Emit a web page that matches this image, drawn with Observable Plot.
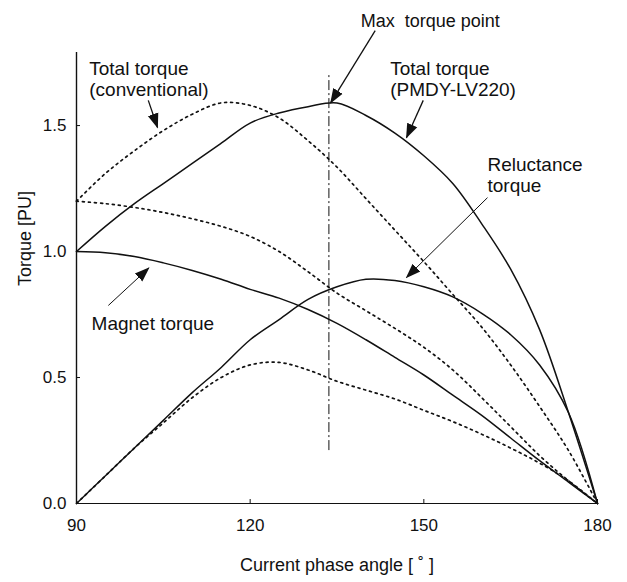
<!DOCTYPE html>
<html><head><meta charset="utf-8">
<script src="https://cdn.jsdelivr.net/npm/d3@7"></script>
<script src="https://cdn.jsdelivr.net/npm/@observablehq/plot@0.6"></script>
<style>body{margin:0;background:#fff}</style>
</head><body><div id="chart"></div>
<script>
// Current phase angle (deg)
const angles = [90,95,100,105,110,115,120,125,130,135,140,145,150,155,160,165,170,175,180];
// PMDY-LV220 (solid)
const totalPmdy   = [1.00,1.10,1.19,1.27,1.35,1.43,1.51,1.55,1.575,1.59,1.54,1.47,1.38,1.27,1.11,0.93,0.69,0.36,0.00];
const magnetPmdy  = [1.00,0.995,0.98,0.955,0.925,0.89,0.85,0.815,0.77,0.715,0.65,0.58,0.51,0.43,0.35,0.26,0.17,0.085,0.00];
const reluctPmdy  = [0.00,0.11,0.22,0.33,0.44,0.54,0.65,0.73,0.81,0.86,0.89,0.885,0.86,0.82,0.755,0.67,0.55,0.36,0.00];
// Conventional (dotted)
const totalConv   = [1.20,1.31,1.40,1.48,1.545,1.59,1.58,1.53,1.44,1.335,1.21,1.085,0.96,0.83,0.70,0.55,0.385,0.21,0.00];
const magnetConv  = [1.20,1.19,1.175,1.155,1.13,1.10,1.06,1.00,0.92,0.835,0.765,0.695,0.62,0.53,0.42,0.305,0.19,0.09,0.00];
const reluctConv  = [0.00,0.11,0.22,0.32,0.42,0.50,0.55,0.56,0.53,0.485,0.45,0.415,0.37,0.325,0.275,0.22,0.16,0.09,0.00];

const xTicks = [90,120,150,180];
const yTicks = [0,0.5,1.0,1.5];

const maxAngle = [133.6];
const maxRange = [0.21, 1.71];

const labelText = ["Total torque\n(conventional)", "Max  torque point", "Total torque\n(PMDY-LV220)", "Reluctance\ntorque", "Magnet torque"];
const labelX    = [92.2, 139.1, 144.2, 161.0, 92.6];
const labelY    = [1.685, 1.915, 1.685, 1.305, 0.715];
const labelSize = [19, 18, 19, 19, 19];

const arrowFromX = [102.4, 141.6, 149.9, 161.0, 95.5];
const arrowFromY = [1.60, 1.877, 1.60, 1.214, 0.786];
const arrowToX   = [104.0, 133.9, 147.0, 147.0, 102.5];
const arrowToY   = [1.492, 1.59, 1.452, 0.897, 0.935];
const arrowWidth = [1.3, 1.3, 1.3, 1.0, 1.0];

const solid = [totalPmdy, magnetPmdy, reluctPmdy];
const dotted = [totalConv, magnetConv, reluctConv];
const toRows = arr => angles.map((a, i) => ({a, v: arr[i]}));
const labels = labelText.map((t, i) => ({t, x: labelX[i], y: labelY[i], s: labelSize[i]}));
const arrows = arrowFromX.map((x1, i) => ({x1, y1: arrowFromY[i], x2: arrowToX[i], y2: arrowToY[i], w: arrowWidth[i]}));

const ink = "#111";
const marks = [
  Plot.ruleX([90], {y1: 0, y2: 1.79, stroke: ink, strokeWidth: 1.4}),
  Plot.ruleY([0], {x1: 90, x2: 180, stroke: ink, strokeWidth: 1}),
  Plot.axisY({ticks: yTicks, tickSize: 0, tickPadding: 10, tickFormat: d3.format(".1f"), label: null, fontSize: 17}),
  Plot.axisY({ticks: yTicks, tickSize: 4, dx: 4, tickFormat: () => "", label: null}),
  Plot.axisX({ticks: xTicks, tickSize: 0, tickPadding: 15, label: null, fontSize: 17}),
  Plot.axisX({ticks: xTicks, tickSize: 4, dy: -4, tickFormat: () => "", label: null}),
  Plot.text(["Current phase angle [ ˚ ]"], {frameAnchor: "bottom", dy: 67, fontSize: 18, fill: ink}),
  Plot.text(["Torque [PU]"], {frameAnchor: "left", rotate: -90, dx: -51, dy: 8, fontSize: 18, fill: ink}),
  Plot.ruleX(maxAngle, {y1: maxRange[0], y2: maxRange[1], stroke: ink, strokeWidth: 1, strokeDasharray: "10,3,2,3"}),
  ...solid.map(s => Plot.line(toRows(s), {x: "a", y: "v", stroke: ink, strokeWidth: 1.5, curve: "catmull-rom"})),
  ...dotted.map(s => Plot.line(toRows(s), {x: "a", y: "v", stroke: ink, strokeWidth: 1.7, strokeDasharray: "2,4", curve: "catmull-rom"})),
  Plot.link(arrows, {x1: "x1", y1: "y1", x2: "x2", y2: "y2", stroke: ink, strokeWidth: "w", markerEnd: "arrow"}),
  ...labelSize.map((s, i) => Plot.text([labels[i]], {x: "x", y: "y", text: "t", textAnchor: "start", lineAnchor: "middle", lineHeight: 1.1, fontSize: s, fill: ink}))
];

const chart = Plot.plot({
  width: 627, height: 582,
  marginLeft: 76, marginRight: 30, marginTop: 52, marginBottom: 79,
  x: {domain: [90, 180]},
  y: {domain: [0, 1.79]},
  style: {fontFamily: "'Liberation Sans', Arial, sans-serif", background: "#fff", color: ink, overflow: "visible"},
  marks
});

// own filled triangular arrowhead, applied to the annotation links
const svg = d3.select(chart);
svg.append("defs").append("marker")
  .attr("id", "headfill").attr("markerUnits", "userSpaceOnUse")
  .attr("viewBox", "0 -7 15 14").attr("refX", 14).attr("refY", 0)
  .attr("markerWidth", 15).attr("markerHeight", 14).attr("orient", "auto")
  .append("path").attr("d", "M0,-5.5L15,0L0,5.5Z").attr("fill", ink).attr("stroke", "none");
svg.selectAll("[marker-end]").attr("marker-end", "url(#headfill)");

document.getElementById("chart").append(chart);
</script>
</body></html>
